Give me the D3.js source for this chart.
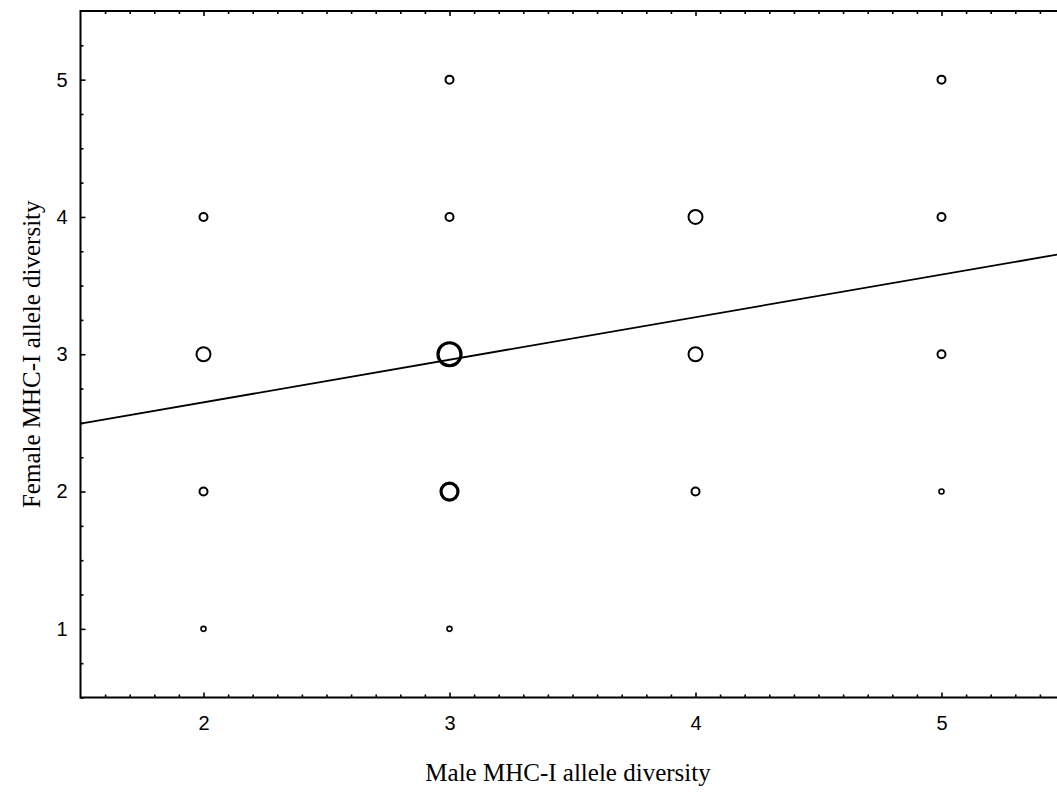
<!DOCTYPE html>
<html>
<head>
<meta charset="utf-8">
<script src="https://cdn.jsdelivr.net/npm/d3@7"></script>
<style>
  body { margin: 0; background: #fff; }
  .tick text { font-family: "Liberation Sans", Arial, sans-serif; font-size: 20px; fill: #000; }
  .axis-title { font-family: "Liberation Serif", "Times New Roman", serif; font-size: 25px; fill: #000; }
</style>
</head>
<body>
<svg id="chart" width="1057" height="792"></svg>
<script>
// observations: male diversity, female diversity, number of pairs at that point
var maleDiv   = [2, 3, 5, 4, 2, 3, 2, 3, 4, 5, 2, 3, 4, 5, 3, 5];
var femaleDiv = [1, 1, 2, 2, 2, 2, 3, 3, 3, 3, 4, 4, 4, 4, 5, 5];
var pairCount = [1, 1, 1, 2, 2, 5, 4, 7, 4, 2, 2, 2, 4, 2, 2, 2];

// fitted line: female = a + b * male
var fitIntercept = 2.03,
    fitSlope = 0.31;

var xTicks = [2, 3, 4, 5],
    yTicks = [1, 2, 3, 4, 5];

var svg = d3.select("#chart"),
    margin = {top: 11, left: 80.5, bottom: 94.5},
    plotH = 792 - margin.top - margin.bottom,
    plotW = 984; // right end runs past the window edge

var x = d3.scaleLinear().domain([1.5, 5.5]).range([margin.left, margin.left + plotW]);
var y = d3.scaleLinear().domain([0.5, 5.5]).range([margin.top + plotH, margin.top]);
var r = d3.scaleLinear().domain([1, 7]).range([2.5, 11.5]);

var data = maleDiv.map(function (d, i) {
    return {male: d, female: femaleDiv[i], n: pairCount[i]};
});

var xMinor = d3.range(16, 55).map(function (d) { return d / 10; }).filter(function (d) { return d % 1 !== 0; });
var yMinor = d3.range(2, 22).map(function (d) { return d / 4; }).filter(function (d) { return d % 1 !== 0; });

// minor ticks
svg.append("g")
    .attr("transform", "translate(0," + y.range()[0] + ")")
    .call(d3.axisBottom(x).tickValues(xMinor).tickSize(-3).tickFormat(""))
    .call(function (g) { g.select(".domain").remove(); });
svg.append("g")
    .attr("transform", "translate(0," + y.range()[1] + ")")
    .call(d3.axisTop(x).tickValues(xMinor).tickSize(-3).tickFormat(""))
    .call(function (g) { g.select(".domain").remove(); });
svg.append("g")
    .attr("transform", "translate(" + margin.left + ",0)")
    .call(d3.axisLeft(y).tickValues(yMinor).tickSize(-3).tickFormat(""))
    .call(function (g) { g.select(".domain").remove(); });

// major ticks and labels
svg.append("g")
    .attr("transform", "translate(0," + y.range()[0] + ")")
    .call(d3.axisBottom(x).tickValues(xTicks).tickSize(-5).tickPadding(18).tickFormat(d3.format("d")))
    .call(function (g) { g.select(".domain").remove(); });
svg.append("g")
    .attr("transform", "translate(0," + y.range()[1] + ")")
    .call(d3.axisTop(x).tickValues(xTicks).tickSize(-5).tickFormat(""))
    .call(function (g) { g.select(".domain").remove(); });
svg.append("g")
    .attr("transform", "translate(" + margin.left + ",0)")
    .call(d3.axisLeft(y).tickValues(yTicks).tickSize(-5).tickPadding(13).tickFormat(d3.format("d")))
    .call(function (g) { g.select(".domain").remove(); });

svg.selectAll(".tick line").attr("stroke", "#000").attr("stroke-width", 1.6);

// frame
svg.append("path")
    .attr("d", "M" + x.range()[1] + "," + y.range()[1] + "H" + margin.left + "V" + y.range()[0] + "H" + x.range()[1])
    .attr("fill", "none")
    .attr("stroke", "#000")
    .attr("stroke-width", 2);

// regression line
svg.append("line")
    .attr("x1", x(1.5)).attr("y1", y(fitIntercept + fitSlope * 1.5))
    .attr("x2", x(5.5)).attr("y2", y(fitIntercept + fitSlope * 5.5))
    .attr("stroke", "#000")
    .attr("stroke-width", 1.8);

// points
svg.append("g").selectAll("circle")
    .data(data)
    .enter().append("circle")
    .attr("cx", function (d) { return x(d.male); })
    .attr("cy", function (d) { return y(d.female); })
    .attr("r", function (d) { return r(d.n); })
    .attr("fill", "none")
    .attr("stroke", "#000")
    .attr("stroke-width", function (d) { return d.n >= 5 ? 3.2 : (d.n === 1 ? 1.6 : 2); });

// axis titles
svg.append("text")
    .attr("class", "axis-title")
    .attr("x", 568).attr("y", 781)
    .attr("text-anchor", "middle")
    .text("Male MHC-I allele diversity");
svg.append("text")
    .attr("class", "axis-title")
    .attr("transform", "translate(40," + y(3) + ") rotate(-90)")
    .attr("text-anchor", "middle")
    .text("Female MHC-I allele diversity");
</script>
</body>
</html>
